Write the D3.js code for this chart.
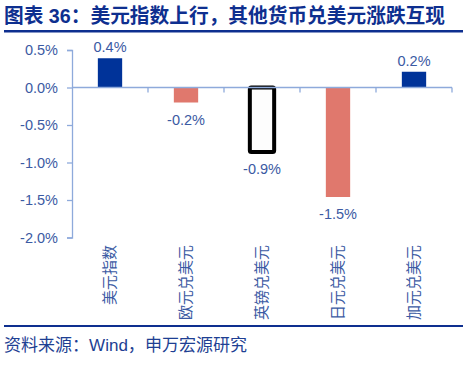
<!DOCTYPE html>
<html>
<head>
<meta charset="utf-8">
<script src="https://cdn.jsdelivr.net/npm/d3@7/dist/d3.min.js"></script>
<style>
  html, body { margin: 0; padding: 0; background: #ffffff; }
  svg { display: block; }
</style>
</head>
<body>
<svg id="chart" width="465" height="369"></svg>
<script>
const title = "图表 36：美元指数上行，其他货币兑美元涨跌互现";
const source = "资料来源：Wind，申万宏源研究";
const categories = ["美元指数", "欧元兑美元", "英镑兑美元", "日元兑美元", "加元兑美元"];
const values = [0.39, -0.2, -0.86, -1.46, 0.21];
const barKinds = ["navy", "salmon", "highlight", "salmon", "navy"];
const yTicks = [0.5, 0.0, -0.5, -1.0, -1.5, -2.0];

const svg = d3.select("#chart");
const fontCJK = "'Liberation Sans', Arial, 'Noto Sans CJK SC', sans-serif";
const textBlue = "#3b5aa3";
const axisBlue = "#8eaadb";
const darkBlue = "#0e2f8f";

// Title
svg.append("text")
  .attr("x", 4).attr("y", 23)
  .attr("font-family", fontCJK)
  .attr("font-size", 20).attr("font-weight", "bold")
  .attr("fill", darkBlue)
  .attr("textLength", 441).attr("lengthAdjust", "spacingAndGlyphs")
  .text(title);
svg.append("rect").attr("x", 4).attr("y", 30).attr("width", 459).attr("height", 2.5).attr("fill", darkBlue);

// Scales
const y = d3.scaleLinear().domain([-2, 0.5]).range([237.5, 50]);
const x = d3.scaleBand().domain(categories).range([72, 452]).padding(0);
const barW = x.bandwidth() * 0.32;

// Y axis
const yAxis = d3.axisLeft(y).tickValues(yTicks).tickSize(5).tickPadding(9)
  .tickFormat(d => d.toFixed(1) + "%");
const gy = svg.append("g").attr("transform", "translate(72,0)").call(yAxis);
gy.select(".domain").attr("stroke", axisBlue).attr("stroke-width", 1.3);
gy.selectAll(".tick line").attr("stroke", axisBlue).attr("stroke-width", 1.3);
gy.selectAll(".tick text").attr("fill", textBlue)
  .attr("font-family", "'Liberation Sans', Arial, sans-serif").attr("font-size", 14.5);

// Bars
const data = categories.map((c, i) => ({ c, v: values[i], k: barKinds[i] }));
const fillFor = k => k === "navy" ? "#003399" : (k === "salmon" ? "#e0786d" : "#fdfdfd");
svg.append("g").selectAll("rect").data(data).join("rect")
  .attr("x", d => x(d.c) + (x.bandwidth() - barW) / 2)
  .attr("y", d => y(Math.max(0, d.v)))
  .attr("width", barW)
  .attr("height", d => Math.abs(y(d.v) - y(0)))
  .attr("fill", d => fillFor(d.k))
  .attr("stroke", d => d.k === "highlight" ? "#000" : "none")
  .attr("stroke-width", d => d.k === "highlight" ? 4 : 0)
  .attr("rx", d => d.k === "highlight" ? 1.5 : 0);

// X axis at zero
const gx = svg.append("g");
gx.append("line").attr("x1", 72).attr("x2", 452).attr("y1", y(0)).attr("y2", y(0))
  .attr("stroke", axisBlue).attr("stroke-width", 1.3);
gx.selectAll("line.tk").data(categories).join("line").attr("class", "tk")
  .attr("x1", d => x(d) + x.bandwidth()).attr("x2", d => x(d) + x.bandwidth())
  .attr("y1", y(0)).attr("y2", y(0) + 5)
  .attr("stroke", axisBlue).attr("stroke-width", 1.3);

// Value labels
svg.append("g").selectAll("text").data(data).join("text")
  .attr("x", d => x(d.c) + x.bandwidth() / 2)
  .attr("y", d => d.v >= 0 ? y(d.v) - 6 : y(d.v) + 22)
  .attr("text-anchor", "middle")
  .attr("font-family", "'Liberation Sans', Arial, sans-serif").attr("font-size", 14.5)
  .attr("fill", textBlue)
  .text(d => d.v.toFixed(1) + "%");

// Category labels (vertical)
svg.append("g").selectAll("text").data(categories).join("text")
  .attr("transform", d => `translate(${x(d) + x.bandwidth() / 2},245) rotate(-90)`)
  .attr("dy", "0.36em")
  .attr("text-anchor", "end")
  .attr("font-family", "'Noto Sans CJK SC', sans-serif").attr("font-size", 15)
  .attr("fill", textBlue)
  .text(d => d);

// Footer
svg.append("rect").attr("x", 4).attr("y", 325).attr("width", 459).attr("height", 2).attr("fill", darkBlue);
svg.append("text")
  .attr("x", 4).attr("y", 351)
  .attr("font-family", fontCJK).attr("font-size", 16.5)
  .attr("fill", "#1e3f93")
  .attr("textLength", 243).attr("lengthAdjust", "spacingAndGlyphs")
  .text(source);
</script>
</body>
</html>
